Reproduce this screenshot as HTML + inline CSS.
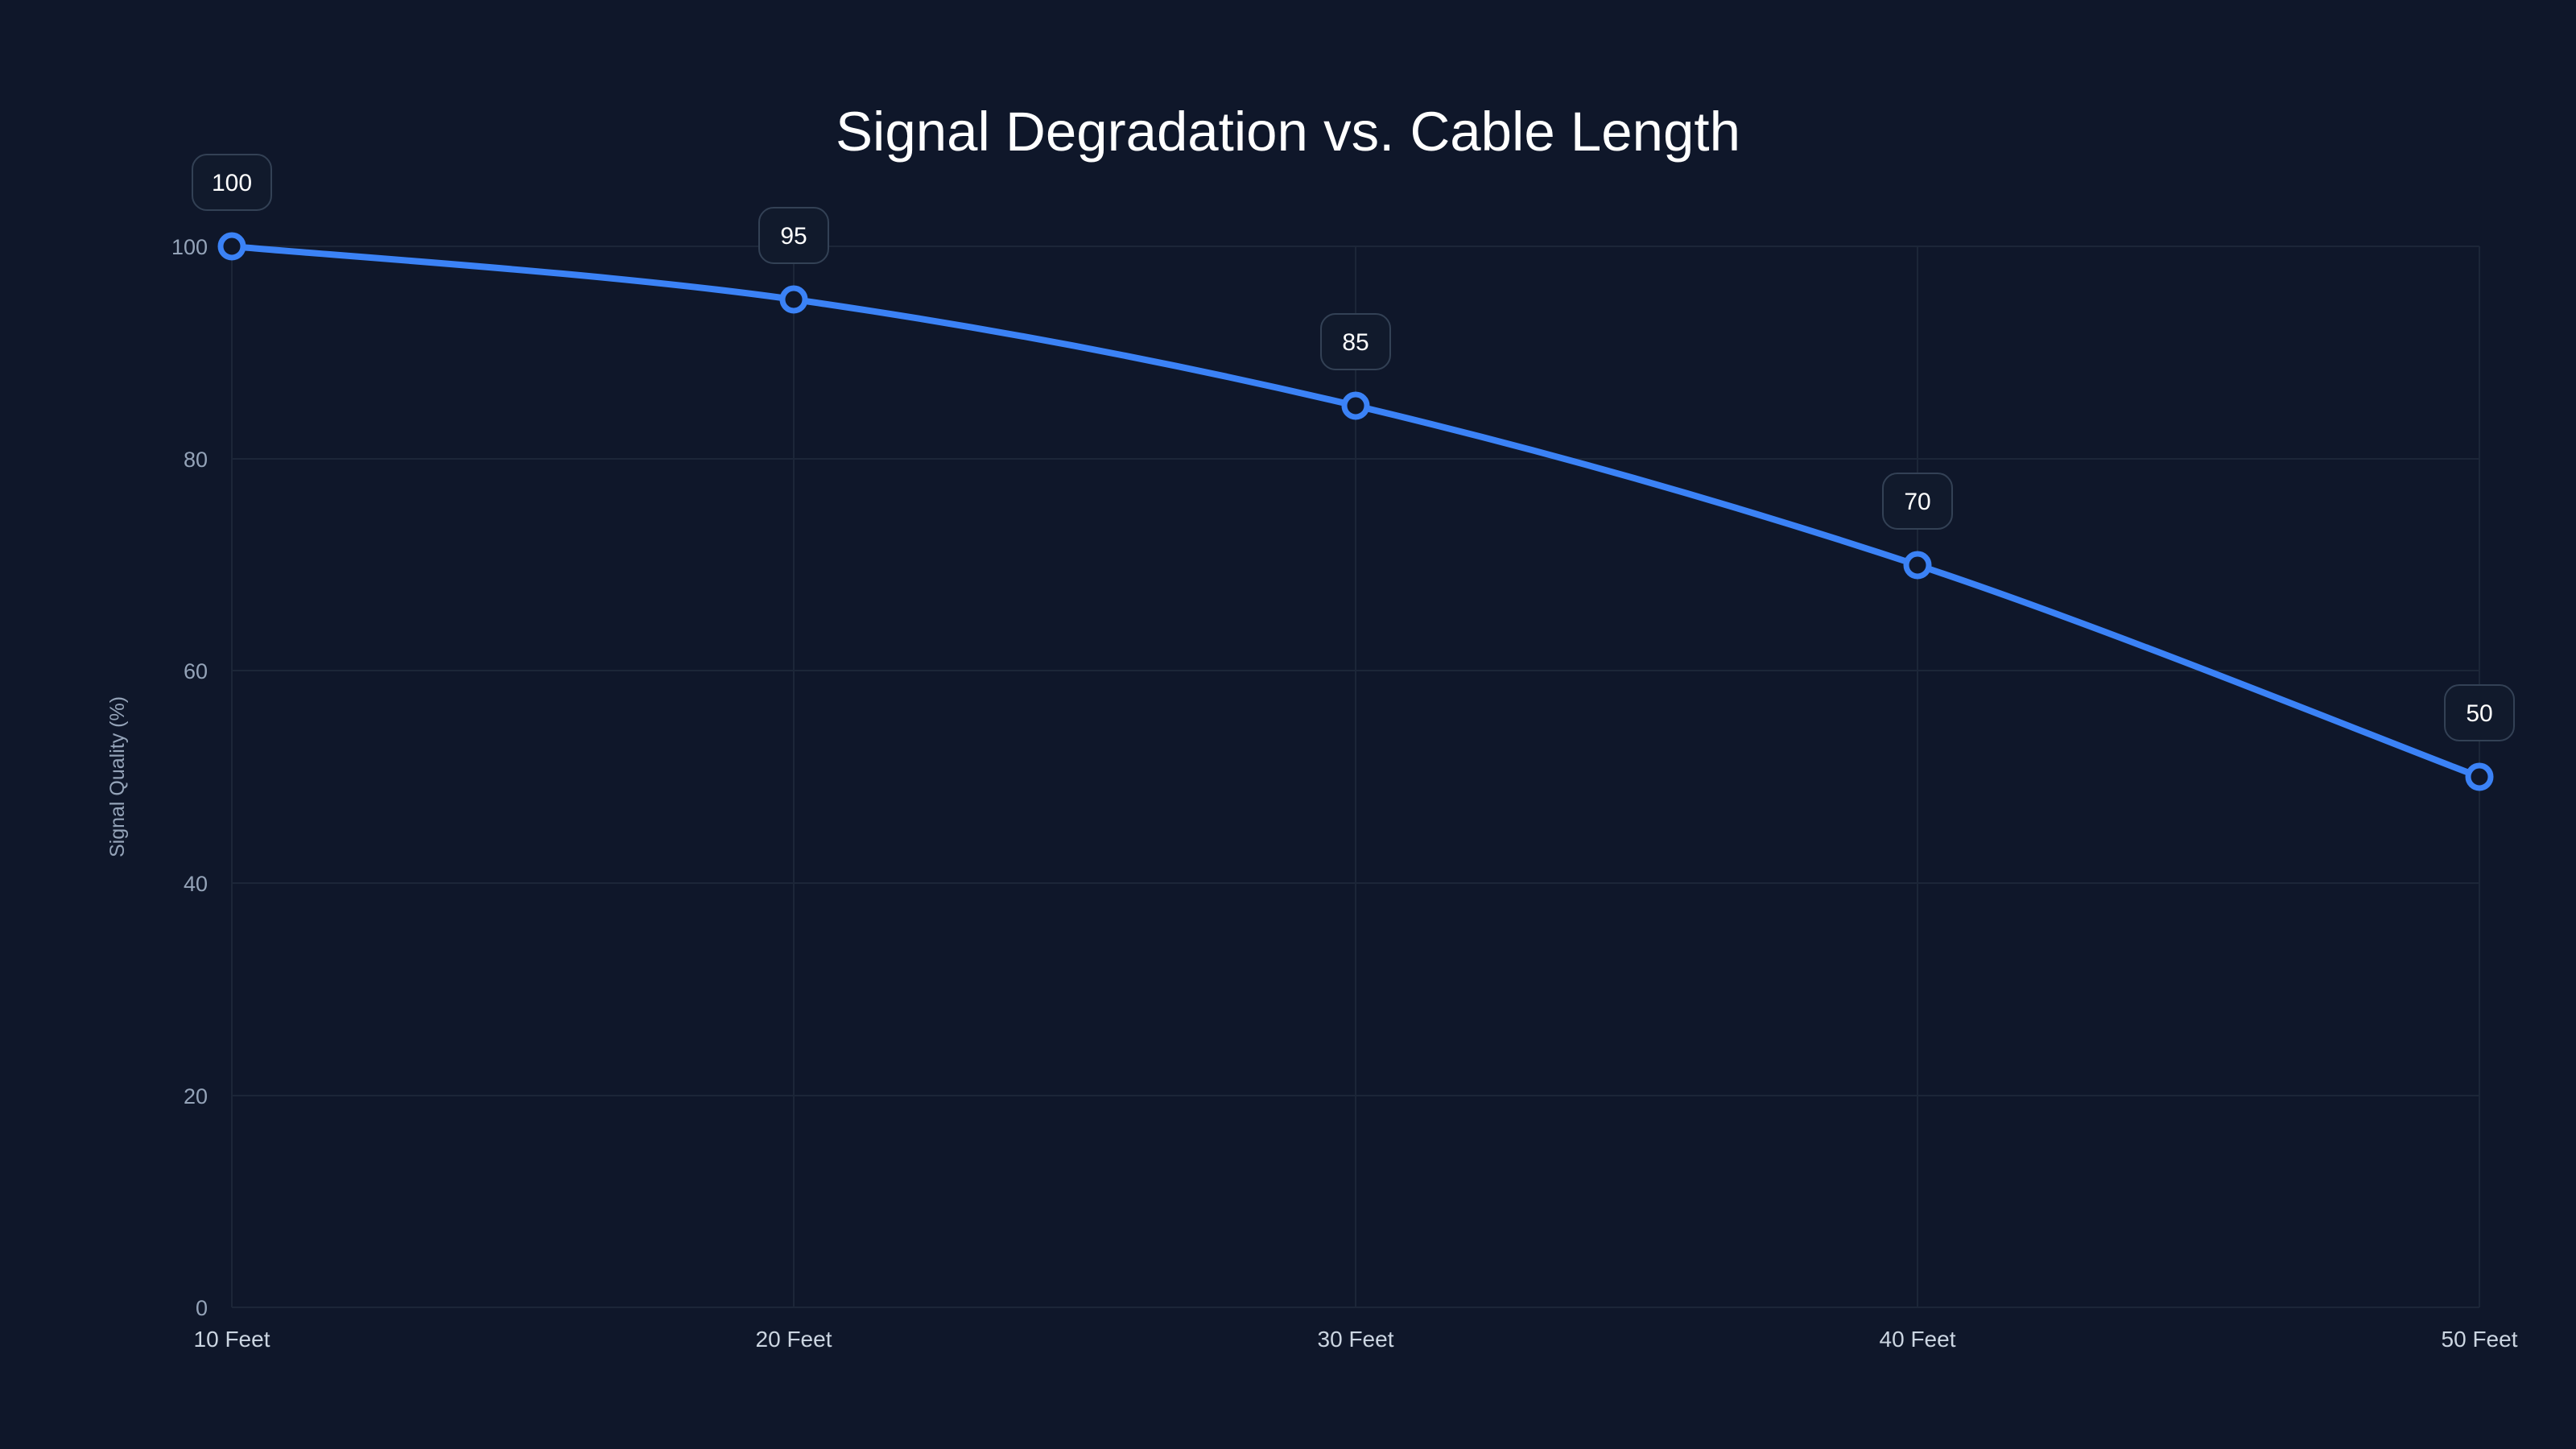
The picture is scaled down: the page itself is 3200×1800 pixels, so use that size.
<!DOCTYPE html>
<html><head><meta charset="utf-8"><style>
html,body{margin:0;padding:0;background:#0f172a;}
svg{display:block}
text{font-family:"Liberation Sans",sans-serif}
</style></head><body>
<svg width="3200" height="1800" viewBox="0 0 3200 1800" xmlns="http://www.w3.org/2000/svg">
<rect width="3200" height="1800" fill="#0f172a"/>
<text x="1600" y="187" text-anchor="middle" fill="#ffffff" font-size="69">Signal Degradation vs. Cable Length</text>
<g stroke="#1c2638" stroke-width="2">
<line x1="288" y1="306" x2="3080" y2="306"/>
<line x1="288" y1="570" x2="3080" y2="570"/>
<line x1="288" y1="833" x2="3080" y2="833"/>
<line x1="288" y1="1097" x2="3080" y2="1097"/>
<line x1="288" y1="1361" x2="3080" y2="1361"/>
<line x1="288" y1="1624" x2="3080" y2="1624"/>
<line x1="288" y1="306" x2="288" y2="1624"/>
<line x1="986" y1="306" x2="986" y2="1624"/>
<line x1="1684" y1="306" x2="1684" y2="1624"/>
<line x1="2382" y1="306" x2="2382" y2="1624"/>
<line x1="3080" y1="306" x2="3080" y2="1624"/>
</g>
<g fill="#94a3b8" font-size="27" text-anchor="end">
<text x="258" y="316">100</text>
<text x="258" y="580">80</text>
<text x="258" y="843">60</text>
<text x="258" y="1107">40</text>
<text x="258" y="1371">20</text>
<text x="258" y="1634">0</text>
</g>
<g fill="#cbd5e1" font-size="28" text-anchor="middle">
<text x="288" y="1673">10 Feet</text>
<text x="986" y="1673">20 Feet</text>
<text x="1684" y="1673">30 Feet</text>
<text x="2382" y="1673">40 Feet</text>
<text x="3080" y="1673">50 Feet</text>
</g>
<text transform="translate(154,965) rotate(-90)" text-anchor="middle" fill="#94a3b8" font-size="25">Signal Quality (%)</text>
<path d="M288,306 C404.3,317 753.3,339 986,372 C1218.7,405 1451.3,449 1684,504 C1916.7,559 2149.3,625.2 2382,702 C2614.7,778.8 2963.7,921.2 3080,965" fill="none" stroke="#3b82f6" stroke-width="8" stroke-linecap="round"/>
<g fill="#0f172a" stroke="#3b82f6" stroke-width="7">
<circle cx="288" cy="306" r="14"/>
<circle cx="986" cy="372" r="14"/>
<circle cx="1684" cy="504" r="14"/>
<circle cx="2382" cy="702" r="14"/>
<circle cx="3080" cy="965" r="14"/>
</g>
<g fill="#111a2c" stroke="#334155" stroke-width="2">
<rect x="239" y="192" width="98" height="69" rx="18"/>
<rect x="943" y="258" width="86" height="69" rx="18"/>
<rect x="1641" y="390" width="86" height="69" rx="18"/>
<rect x="2339" y="588" width="86" height="69" rx="18"/>
<rect x="3037" y="851" width="86" height="69" rx="18"/>
</g>
<g fill="#ffffff" font-size="30" text-anchor="middle">
<text x="288" y="237">100</text>
<text x="986" y="303">95</text>
<text x="1684" y="435">85</text>
<text x="2382" y="633">70</text>
<text x="3080" y="896">50</text>
</g>
</svg>
</body></html>
